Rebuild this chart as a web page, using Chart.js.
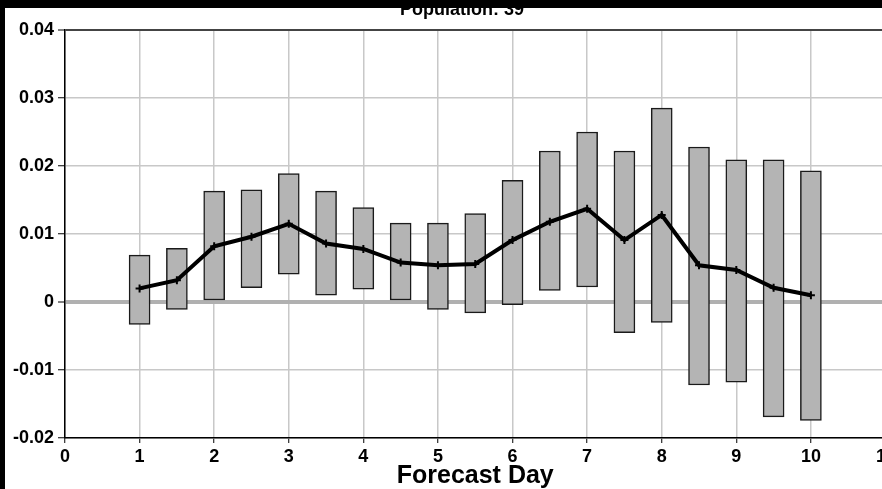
<!DOCTYPE html>
<html>
<head>
<meta charset="utf-8">
<script src="https://cdn.jsdelivr.net/npm/chart.js@4.4.1/dist/chart.umd.min.js"></script>
<style>
  html, body { margin: 0; padding: 0; background: #000; overflow: hidden; }
  #wrap { position: absolute; left: 5px; top: 0; }
</style>
</head>
<body>
<div id="wrap"><canvas id="fcChart" width="893" height="489"></canvas></div>
<script>
var chartTitle = 'Population: 39';
var axisTitle = 'Forecast Day';
var days = [1, 1.5, 2, 2.5, 3, 3.5, 4, 4.5, 5, 5.5, 6, 6.5, 7, 7.5, 8, 8.5, 9, 9.5, 10];
var boxHigh = [0.0069, 0.0079, 0.0163, 0.0165, 0.0189, 0.0163, 0.0139, 0.0116, 0.0116, 0.0130,
               0.0179, 0.0222, 0.0250, 0.0222, 0.0285, 0.0228, 0.0209, 0.0209, 0.0193];
var boxLow = [-0.0033, -0.0011, 0.0000, 0.0021, 0.0041, 0.0010, 0.0019, 0.0000, -0.0011, -0.0016,
              -0.0004, 0.0017, 0.0022, -0.0045, -0.0030, -0.0122, -0.0118, -0.0169, -0.0174];
var meanLine = [0.0020, 0.0032, 0.0082, 0.0096, 0.0115, 0.0086, 0.0078, 0.0058, 0.0054, 0.0056,
                0.0091, 0.0118, 0.0137, 0.0091, 0.0128, 0.0054, 0.0047, 0.0021, 0.0010];

function criarGrafico() {
    var boxes = days.map(function (d, i) { return { x: d, y: [boxLow[i], boxHigh[i]] }; });
    var pts = days.map(function (d, i) { return { x: d, y: meanLine[i] }; });

    // white panel, title and the black band at the top
    var frame = {
        id: 'frame',
        beforeDraw: function (chart) {
            var c = chart.ctx;
            c.save();
            c.fillStyle = '#fff';
            c.fillRect(0, 8, chart.width, chart.height - 8);
            c.restore();
        },
        afterDraw: function (chart) {
            var c = chart.ctx;
            c.save();
            c.fillStyle = '#000';
            c.font = 'bold 18px "Liberation Sans", Arial, sans-serif';
            c.textAlign = 'center';
            c.textBaseline = 'alphabetic';
            c.fillText(chartTitle, 457, 15);
            c.fillRect(0, 0, chart.width, 8);
            c.restore();
        }
    };

    var ctx = document.getElementById('fcChart').getContext('2d');
    return new Chart(ctx, {
        data: {
            datasets: [{
                type: 'line',
                data: pts,
                borderColor: '#000',
                borderWidth: 4,
                pointStyle: 'cross',
                pointRadius: 4,
                pointBorderWidth: 2,
                pointBorderColor: '#000',
                tension: 0,
                order: 0
            }, {
                type: 'bar',
                data: boxes,
                backgroundColor: '#b4b4b4',
                borderColor: '#1a1a1a',
                borderWidth: 1.5,
                borderSkipped: false,
                barThickness: 21,
                order: 1
            }]
        },
        options: {
            responsive: false,
            animation: false,
            layout: { padding: { top: 30, right: 12, left: 0, bottom: 0 } },
            plugins: {
                legend: { display: false },
                tooltip: { enabled: false }
            },
            scales: {
                x: {
                    type: 'linear',
                    min: 0,
                    max: 11,
                    offset: false,
                    ticks: {
                        stepSize: 1,
                        color: '#000',
                        padding: 3,
                        maxRotation: 0,
                        font: { family: '"Liberation Sans", Arial, sans-serif', size: 18, weight: 'bold' }
                    },
                    grid: { offset: false, color: '#c8c8c8', lineWidth: 1.5, tickColor: '#000', tickLength: 5, tickWidth: 1 },
                    border: { color: '#000', width: 1.5 },
                    title: {
                        display: true,
                        text: axisTitle,
                        color: '#000',
                        padding: 0,
                        font: { family: '"Liberation Sans", Arial, sans-serif', size: 25, weight: 'bold', lineHeight: 1 }
                    },
                    afterFit: function (s) { s.height = 51; }
                },
                y: {
                    min: -0.02,
                    max: 0.04,
                    ticks: {
                        stepSize: 0.01,
                        color: '#000',
                        padding: 4,
                        font: { family: '"Liberation Sans", Arial, sans-serif', size: 18, weight: 'bold' }
                    },
                    grid: {
                        color: function (c) {
                            if (!c.tick) return '#c8c8c8';
                            if (Math.abs(c.tick.value) < 1e-9) return '#b0b0b0';
                            if (Math.abs(c.tick.value - 0.04) < 1e-9) return '#444';
                            return '#c8c8c8';
                        },
                        lineWidth: function (c) {
                            if (c.tick && Math.abs(c.tick.value) < 1e-9) return 4;
                            if (c.tick && Math.abs(c.tick.value - 0.04) < 1e-9) return 2;
                            return 1.5;
                        },
                        tickColor: '#000',
                        tickLength: 7,
                        tickWidth: 1
                    },
                    border: { color: '#000', width: 1.5 },
                    afterFit: function (s) { s.width = 60; }
                }
            }
        },
        plugins: [frame]
    });
}

criarGrafico();
</script>
</body>
</html>
